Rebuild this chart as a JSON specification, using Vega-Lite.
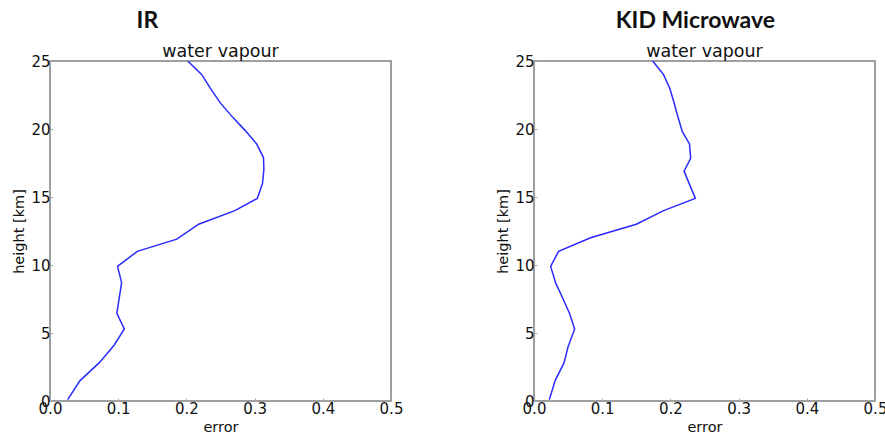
{
  "$schema": "https://vega.github.io/schema/vega-lite/v6.json",
  "padding": {"left": 11, "top": 9, "right": 5, "bottom": 3},
  "background": "white",
  "config": {
    "view": {"stroke": "#808080", "strokeWidth": 1.5},
    "axis": {
      "domain": false, "grid": false,
      "labelFont": "DejaVu Sans", "labelFontSize": 15, "labelColor": "#111",
      "titleFont": "DejaVu Sans", "titleFontSize": 14.5, "titleFontWeight": "normal", "titleColor": "#111",
      "tickSize": -3, "tickColor": "#aaa", "labelFlush": false, "labelOverlap": false
    },
    "title": {"color": "#111"}
  },
  "datasets": {
    "ir": [
      {"height": 0.1, "error": 0.026}, {"height": 1.5, "error": 0.044}, {"height": 2.8, "error": 0.072},
      {"height": 4.1, "error": 0.094}, {"height": 5.3, "error": 0.109}, {"height": 6.45, "error": 0.098},
      {"height": 8.7, "error": 0.105}, {"height": 9.9, "error": 0.099}, {"height": 11.0, "error": 0.128},
      {"height": 11.9, "error": 0.186}, {"height": 13.0, "error": 0.218}, {"height": 14.0, "error": 0.271},
      {"height": 14.9, "error": 0.304}, {"height": 16.0, "error": 0.3116}, {"height": 17.0, "error": 0.3136},
      {"height": 17.9, "error": 0.313}, {"height": 18.9, "error": 0.303}, {"height": 19.9, "error": 0.286},
      {"height": 20.8, "error": 0.269}, {"height": 21.9, "error": 0.25}, {"height": 23.0, "error": 0.235},
      {"height": 24.0, "error": 0.2226}, {"height": 25.0, "error": 0.202}
    ],
    "mw": [
      {"height": 0.1, "error": 0.0225}, {"height": 1.5, "error": 0.031}, {"height": 2.8, "error": 0.044},
      {"height": 4.0, "error": 0.05}, {"height": 5.3, "error": 0.0596}, {"height": 6.45, "error": 0.052},
      {"height": 7.9, "error": 0.039}, {"height": 8.65, "error": 0.032}, {"height": 9.9, "error": 0.0244},
      {"height": 11.0, "error": 0.036}, {"height": 12.0, "error": 0.083}, {"height": 13.0, "error": 0.15},
      {"height": 14.0, "error": 0.19}, {"height": 14.9, "error": 0.2366}, {"height": 16.9, "error": 0.22},
      {"height": 17.85, "error": 0.2297}, {"height": 18.9, "error": 0.228}, {"height": 19.8, "error": 0.2175},
      {"height": 20.9, "error": 0.211}, {"height": 22.0, "error": 0.205}, {"height": 23.0, "error": 0.199},
      {"height": 24.0, "error": 0.19}, {"height": 25.0, "error": 0.174}
    ]
  },
  "spacing": 91,
  "hconcat": [
    {
      "title": {"text": "IR", "font": "Lato", "fontSize": 23, "fontWeight": "bold", "anchor": "middle", "dx": -60, "offset": 9},
      "vconcat": [
        {
          "width": 341, "height": 340,
          "title": {"text": "water vapour", "font": "DejaVu Sans", "fontSize": 17.5, "fontWeight": "normal", "offset": -6},
          "data": {"name": "ir"},
          "mark": {"type": "line", "color": "#2a2aff", "strokeWidth": 1.5},
          "encoding": {
            "x": {"field": "error", "type": "quantitative", "scale": {"domain": [0, 0.5], "nice": false},
                  "axis": {"title": "error", "values": [0, 0.1, 0.2, 0.3, 0.4, 0.5], "format": ".1f", "labelPadding": 3, "titlePadding": 4}},
            "y": {"field": "height", "type": "quantitative", "scale": {"domain": [0, 25], "nice": false},
                  "axis": {"title": "height [km]", "values": [0, 5, 10, 15, 20, 25], "format": "d", "labelPadding": 3, "titlePadding": 4}},
            "order": {"field": "height", "type": "quantitative"}
          }
        }
      ]
    },
    {
      "title": {"text": "KID Microwave", "font": "Lato", "fontSize": 23, "fontWeight": "bold", "anchor": "middle", "dx": 4, "offset": 9},
      "vconcat": [
        {
          "width": 341, "height": 340,
          "title": {"text": "water vapour", "font": "DejaVu Sans", "fontSize": 17.5, "fontWeight": "normal", "offset": -6},
          "data": {"name": "mw"},
          "mark": {"type": "line", "color": "#2a2aff", "strokeWidth": 1.5},
          "encoding": {
            "x": {"field": "error", "type": "quantitative", "scale": {"domain": [0, 0.5], "nice": false},
                  "axis": {"title": "error", "values": [0, 0.1, 0.2, 0.3, 0.4, 0.5], "format": ".1f", "labelPadding": 3, "titlePadding": 4}},
            "y": {"field": "height", "type": "quantitative", "scale": {"domain": [0, 25], "nice": false},
                  "axis": {"title": "height [km]", "values": [0, 5, 10, 15, 20, 25], "format": "d", "labelPadding": 3, "titlePadding": 4}},
            "order": {"field": "height", "type": "quantitative"}
          }
        }
      ]
    }
  ]
}
